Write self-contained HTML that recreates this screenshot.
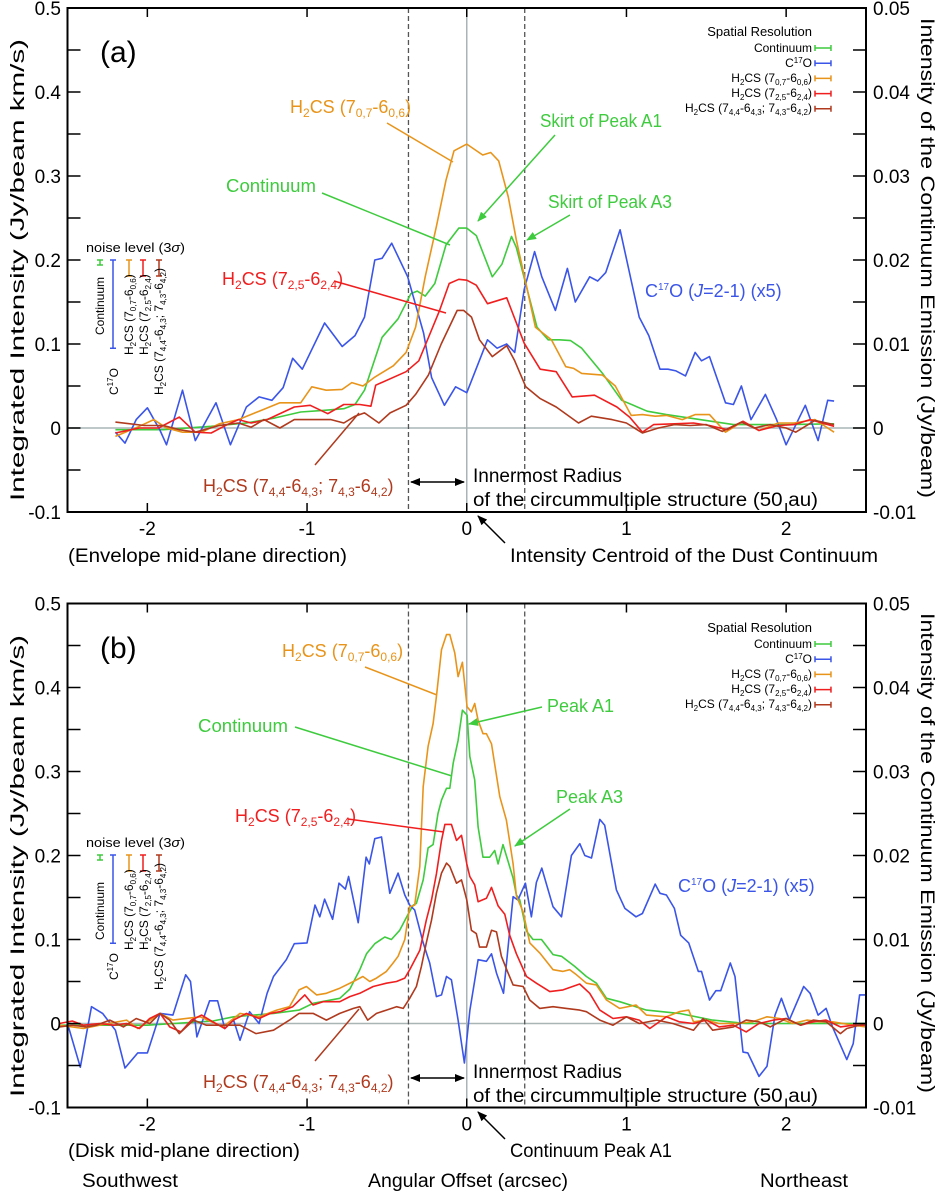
<!DOCTYPE html>
<html><head><meta charset="utf-8">
<style>
html,body{margin:0;padding:0;background:#fff;}
svg{display:block;font-family:"Liberation Sans",sans-serif;}
.tk{font-size:19px;fill:#000;}
.ann{font-size:18px;}
.sm{font-size:12px;fill:#000;}
</style></head>
<body>
<svg id="fig" width="937" height="1194" viewBox="0 0 937 1194" xmlns="http://www.w3.org/2000/svg">
<defs>
<marker id="ahG" markerWidth="10" markerHeight="8" refX="9" refY="4" orient="auto" markerUnits="userSpaceOnUse"><path d="M0,0 L10,4 L0,8 z" fill="#3ecb3e"/></marker>
<marker id="ahK" markerWidth="10" markerHeight="8" refX="9" refY="4" orient="auto" markerUnits="userSpaceOnUse"><path d="M0,0 L10,4 L0,8 z" fill="#000"/></marker>
<marker id="ahKs" markerWidth="10" markerHeight="8" refX="1" refY="4" orient="auto" markerUnits="userSpaceOnUse"><path d="M10,0 L0,4 L10,8 z" fill="#000"/></marker>
</defs>
<g id="panelA"></g>
<g id="panelB"></g>

<!-- ============ PANEL A static text ============ -->
<g>
<text x="100" y="62" font-size="30">(a)</text>
<text transform="translate(24,270) rotate(-90)" text-anchor="middle" font-size="19" textLength="462" lengthAdjust="spacingAndGlyphs">Integrated Intensity (Jy/beam km/s)</text>
<text transform="translate(921,258) rotate(90)" text-anchor="middle" font-size="19" textLength="480" lengthAdjust="spacingAndGlyphs">Intensity of the Continuum Emission (Jy/beam)</text>

<text x="290" y="113" class="ann" fill="#e8941a">H<tspan dy="4" font-size="12">2</tspan><tspan dy="-4">CS (7</tspan><tspan dy="4" font-size="12">0,7</tspan><tspan dy="-4">-6</tspan><tspan dy="4" font-size="12">0,6</tspan><tspan dy="-4">)</tspan></text>
<line x1="387" y1="123" x2="453" y2="162" stroke="#e8941a" stroke-width="1.5"/>
<text x="540" y="127" class="ann" fill="#3ecb3e" textLength="122" lengthAdjust="spacingAndGlyphs">Skirt of Peak A1</text>
<line x1="555" y1="135" x2="478" y2="221" stroke="#3ecb3e" stroke-width="1.5" marker-end="url(#ahG)"/>
<text x="226" y="192" class="ann" fill="#3ecb3e" textLength="90" lengthAdjust="spacingAndGlyphs">Continuum</text>
<line x1="322" y1="193" x2="450" y2="245" stroke="#3ecb3e" stroke-width="1.5"/>
<text x="548" y="208" class="ann" fill="#3ecb3e" textLength="124" lengthAdjust="spacingAndGlyphs">Skirt of Peak A3</text>
<line x1="570" y1="215" x2="527" y2="240" stroke="#3ecb3e" stroke-width="1.5" marker-end="url(#ahG)"/>
<text x="222" y="285" class="ann" fill="#f01e1e">H<tspan dy="4" font-size="12">2</tspan><tspan dy="-4">CS (7</tspan><tspan dy="4" font-size="12">2,5</tspan><tspan dy="-4">-6</tspan><tspan dy="4" font-size="12">2,4</tspan><tspan dy="-4">)</tspan></text>
<line x1="334" y1="281" x2="446" y2="313" stroke="#f01e1e" stroke-width="1.5"/>
<text x="645" y="297" class="ann" fill="#3a55e8">C<tspan dy="-7" font-size="10">17</tspan><tspan dy="7">O (</tspan><tspan font-style="italic">J</tspan>=2-1) (x5)</text>
<text x="203" y="492" class="ann" fill="#b03a1e">H<tspan dy="4" font-size="12">2</tspan><tspan dy="-4">CS (7</tspan><tspan dy="4" font-size="12">4,4</tspan><tspan dy="-4">-6</tspan><tspan dy="4" font-size="12">4,3</tspan><tspan dy="-4">; 7</tspan><tspan dy="4" font-size="12">4,3</tspan><tspan dy="-4">-6</tspan><tspan dy="4" font-size="12">4,2</tspan><tspan dy="-4">)</tspan></text>
<line x1="315" y1="465" x2="359" y2="413" stroke="#b03a1e" stroke-width="1.5"/>

<line x1="411" y1="482" x2="464" y2="482" stroke="#000" stroke-width="1.5" marker-end="url(#ahK)" marker-start="url(#ahKs)"/>
<text x="473" y="482" font-size="19">Innermost Radius</text>
<text x="473" y="506" font-size="19" textLength="345" lengthAdjust="spacingAndGlyphs">of the circummultiple structure (50 au)</text>
<text x="68" y="562" font-size="19" textLength="279" lengthAdjust="spacingAndGlyphs">(Envelope mid-plane direction)</text>
<text x="510" y="562" font-size="19" textLength="368" lengthAdjust="spacingAndGlyphs">Intensity Centroid of the Dust Continuum</text>
<line x1="505" y1="543" x2="478" y2="516" stroke="#000" stroke-width="1.5" marker-end="url(#ahK)"/>

<g>
<text x="86" y="252" font-size="13" textLength="99" lengthAdjust="spacingAndGlyphs">noise level (3<tspan font-style="italic">σ</tspan>)</text>
<text transform="translate(104,335) rotate(-90)" class="sm">Continuum</text>
<text transform="translate(118,395) rotate(-90)" class="sm">C<tspan dy="-5" font-size="8">17</tspan><tspan dy="5">O</tspan></text>
<text transform="translate(133,355) rotate(-90)" class="sm">H<tspan dy="3" font-size="8">2</tspan><tspan dy="-3">CS (7</tspan><tspan dy="3" font-size="8">0,7</tspan><tspan dy="-3">-6</tspan><tspan dy="3" font-size="8">0,6</tspan><tspan dy="-3">)</tspan></text>
<text transform="translate(148,355) rotate(-90)" class="sm">H<tspan dy="3" font-size="8">2</tspan><tspan dy="-3">CS (7</tspan><tspan dy="3" font-size="8">2,5</tspan><tspan dy="-3">-6</tspan><tspan dy="3" font-size="8">2,4</tspan><tspan dy="-3">)</tspan></text>
<text transform="translate(163,395) rotate(-90)" class="sm">H<tspan dy="3" font-size="8">2</tspan><tspan dy="-3">CS (7</tspan><tspan dy="3" font-size="8">4,4</tspan><tspan dy="-3">-6</tspan><tspan dy="3" font-size="8">4,3</tspan><tspan dy="-3">; 7</tspan><tspan dy="3" font-size="8">4,3</tspan><tspan dy="-3">-6</tspan><tspan dy="3" font-size="8">4,2</tspan><tspan dy="-3">)</tspan></text>
</g>
<g font-size="12" text-anchor="end">
<text x="812" y="36" font-size="13">Spatial Resolution</text>
<text x="812" y="52">Continuum</text>
<text x="812" y="67">C<tspan dy="-4" font-size="8">17</tspan><tspan dy="4">O</tspan></text>
<text x="812" y="82">H<tspan dy="3" font-size="8">2</tspan><tspan dy="-3">CS (7</tspan><tspan dy="3" font-size="8">0,7</tspan><tspan dy="-3">-6</tspan><tspan dy="3" font-size="8">0,6</tspan><tspan dy="-3">)</tspan></text>
<text x="812" y="97">H<tspan dy="3" font-size="8">2</tspan><tspan dy="-3">CS (7</tspan><tspan dy="3" font-size="8">2,5</tspan><tspan dy="-3">-6</tspan><tspan dy="3" font-size="8">2,4</tspan><tspan dy="-3">)</tspan></text>
<text x="812" y="112">H<tspan dy="3" font-size="8">2</tspan><tspan dy="-3">CS (7</tspan><tspan dy="3" font-size="8">4,4</tspan><tspan dy="-3">-6</tspan><tspan dy="3" font-size="8">4,3</tspan><tspan dy="-3">; 7</tspan><tspan dy="3" font-size="8">4,3</tspan><tspan dy="-3">-6</tspan><tspan dy="3" font-size="8">4,2</tspan><tspan dy="-3">)</tspan></text>
</g>
</g>

<!-- ============ PANEL B static text ============ -->
<g>
<text x="100" y="658" font-size="30">(b)</text>
<text transform="translate(24,866) rotate(-90)" text-anchor="middle" font-size="19" textLength="462" lengthAdjust="spacingAndGlyphs">Integrated Intensity (Jy/beam km/s)</text>
<text transform="translate(921,853) rotate(90)" text-anchor="middle" font-size="19" textLength="480" lengthAdjust="spacingAndGlyphs">Intensity of the Continuum Emission (Jy/beam)</text>

<text x="282" y="657" class="ann" fill="#e8941a">H<tspan dy="4" font-size="12">2</tspan><tspan dy="-4">CS (7</tspan><tspan dy="4" font-size="12">0,7</tspan><tspan dy="-4">-6</tspan><tspan dy="4" font-size="12">0,6</tspan><tspan dy="-4">)</tspan></text>
<line x1="365" y1="667" x2="437" y2="695" stroke="#e8941a" stroke-width="1.5"/>
<text x="547" y="712" class="ann" fill="#3ecb3e">Peak A1</text>
<line x1="542" y1="707" x2="469" y2="724" stroke="#3ecb3e" stroke-width="1.5" marker-end="url(#ahG)"/>
<text x="198" y="732" class="ann" fill="#3ecb3e" textLength="90" lengthAdjust="spacingAndGlyphs">Continuum</text>
<line x1="295" y1="727" x2="452" y2="776" stroke="#3ecb3e" stroke-width="1.5"/>
<text x="556" y="803" class="ann" fill="#3ecb3e">Peak A3</text>
<line x1="570" y1="809" x2="515" y2="846" stroke="#3ecb3e" stroke-width="1.5" marker-end="url(#ahG)"/>
<text x="235" y="822" class="ann" fill="#f01e1e">H<tspan dy="4" font-size="12">2</tspan><tspan dy="-4">CS (7</tspan><tspan dy="4" font-size="12">2,5</tspan><tspan dy="-4">-6</tspan><tspan dy="4" font-size="12">2,4</tspan><tspan dy="-4">)</tspan></text>
<line x1="348" y1="819" x2="444" y2="832" stroke="#f01e1e" stroke-width="1.5"/>
<text x="678" y="892" class="ann" fill="#3a55e8">C<tspan dy="-7" font-size="10">17</tspan><tspan dy="7">O (</tspan><tspan font-style="italic">J</tspan>=2-1) (x5)</text>
<text x="203" y="1088" class="ann" fill="#b03a1e">H<tspan dy="4" font-size="12">2</tspan><tspan dy="-4">CS (7</tspan><tspan dy="4" font-size="12">4,4</tspan><tspan dy="-4">-6</tspan><tspan dy="4" font-size="12">4,3</tspan><tspan dy="-4">; 7</tspan><tspan dy="4" font-size="12">4,3</tspan><tspan dy="-4">-6</tspan><tspan dy="4" font-size="12">4,2</tspan><tspan dy="-4">)</tspan></text>
<line x1="315" y1="1061" x2="359" y2="1009" stroke="#b03a1e" stroke-width="1.5"/>

<line x1="411" y1="1078" x2="464" y2="1078" stroke="#000" stroke-width="1.5" marker-end="url(#ahK)" marker-start="url(#ahKs)"/>
<text x="473" y="1078" font-size="19">Innermost Radius</text>
<text x="473" y="1102" font-size="19" textLength="345" lengthAdjust="spacingAndGlyphs">of the circummultiple structure (50 au)</text>
<text x="68" y="1157" font-size="19" textLength="232" lengthAdjust="spacingAndGlyphs">(Disk mid-plane direction)</text>
<text x="510" y="1157" font-size="19" textLength="162" lengthAdjust="spacingAndGlyphs">Continuum Peak A1</text>
<line x1="505" y1="1139" x2="478" y2="1112" stroke="#000" stroke-width="1.5" marker-end="url(#ahK)"/>
<text x="82" y="1187" font-size="19" textLength="96" lengthAdjust="spacingAndGlyphs">Southwest</text>
<text x="368" y="1187" font-size="19" textLength="200" lengthAdjust="spacingAndGlyphs">Angular Offset (arcsec)</text>
<text x="760" y="1187" font-size="19" textLength="88" lengthAdjust="spacingAndGlyphs">Northeast</text>

<g>
<text x="86" y="847" font-size="13" textLength="99" lengthAdjust="spacingAndGlyphs">noise level (3<tspan font-style="italic">σ</tspan>)</text>
<text transform="translate(104,940) rotate(-90)" class="sm">Continuum</text>
<text transform="translate(118,980) rotate(-90)" class="sm">C<tspan dy="-5" font-size="8">17</tspan><tspan dy="5">O</tspan></text>
<text transform="translate(133,950) rotate(-90)" class="sm">H<tspan dy="3" font-size="8">2</tspan><tspan dy="-3">CS (7</tspan><tspan dy="3" font-size="8">0,7</tspan><tspan dy="-3">-6</tspan><tspan dy="3" font-size="8">0,6</tspan><tspan dy="-3">)</tspan></text>
<text transform="translate(148,950) rotate(-90)" class="sm">H<tspan dy="3" font-size="8">2</tspan><tspan dy="-3">CS (7</tspan><tspan dy="3" font-size="8">2,5</tspan><tspan dy="-3">-6</tspan><tspan dy="3" font-size="8">2,4</tspan><tspan dy="-3">)</tspan></text>
<text transform="translate(163,990) rotate(-90)" class="sm">H<tspan dy="3" font-size="8">2</tspan><tspan dy="-3">CS (7</tspan><tspan dy="3" font-size="8">4,4</tspan><tspan dy="-3">-6</tspan><tspan dy="3" font-size="8">4,3</tspan><tspan dy="-3">; 7</tspan><tspan dy="3" font-size="8">4,3</tspan><tspan dy="-3">-6</tspan><tspan dy="3" font-size="8">4,2</tspan><tspan dy="-3">)</tspan></text>
</g>
<g font-size="12" text-anchor="end">
<text x="812" y="632" font-size="13">Spatial Resolution</text>
<text x="812" y="648">Continuum</text>
<text x="812" y="663">C<tspan dy="-4" font-size="8">17</tspan><tspan dy="4">O</tspan></text>
<text x="812" y="678">H<tspan dy="3" font-size="8">2</tspan><tspan dy="-3">CS (7</tspan><tspan dy="3" font-size="8">0,7</tspan><tspan dy="-3">-6</tspan><tspan dy="3" font-size="8">0,6</tspan><tspan dy="-3">)</tspan></text>
<text x="812" y="693">H<tspan dy="3" font-size="8">2</tspan><tspan dy="-3">CS (7</tspan><tspan dy="3" font-size="8">2,5</tspan><tspan dy="-3">-6</tspan><tspan dy="3" font-size="8">2,4</tspan><tspan dy="-3">)</tspan></text>
<text x="812" y="708">H<tspan dy="3" font-size="8">2</tspan><tspan dy="-3">CS (7</tspan><tspan dy="3" font-size="8">4,4</tspan><tspan dy="-3">-6</tspan><tspan dy="3" font-size="8">4,3</tspan><tspan dy="-3">; 7</tspan><tspan dy="3" font-size="8">4,3</tspan><tspan dy="-3">-6</tspan><tspan dy="3" font-size="8">4,2</tspan><tspan dy="-3">)</tspan></text>
</g>
</g>
</svg>

<script>
// ---------------- DATA (offset arcsec / intensity) ----------------
const xTicks = [-2, -1, 0, 1, 2];
const xTickLabels = ["-2", "-1", "0", "1", "2"];
const yTicksLeft = [-0.1, 0, 0.1, 0.2, 0.3, 0.4, 0.5];
const yTickLabelsLeft = ["-0.1", "0", "0.1", "0.2", "0.3", "0.4", "0.5"];
const yTickLabelsRight = ["-0.01", "0", "0.01", "0.02", "0.03", "0.04", "0.05"];
const dashedOffsets = [-0.365, 0.363];

// Panel (a)
const aBlueX = [-2.2,-2.14,-2.07,-2.0,-1.92,-1.88,-1.78,-1.7,-1.57,-1.48,-1.38,-1.3,-1.22,-1.15,-1.09,-1.03,-0.89,-0.78,-0.7,-0.64,-0.576,-0.53,-0.47,-0.37,-0.27,-0.22,-0.14,-0.07,0.0,0.13,0.19,0.25,0.3,0.36,0.425,0.47,0.555,0.63,0.68,0.77,0.82,0.87,0.96,1.08,1.14,1.21,1.26,1.31,1.37,1.43,1.47,1.52,1.62,1.67,1.72,1.78,1.87,1.94,2.0,2.12,2.2,2.26,2.3];
const aBlueY = [-0.005,-0.018,0.01,0.024,-0.003,-0.02,0.045,-0.015,0.03,-0.02,0.025,0.037,0.033,0.048,0.083,0.07,0.125,0.097,0.11,0.132,0.2,0.202,0.22,0.18,0.113,0.06,0.027,0.049,0.042,0.105,0.095,0.1,0.09,0.165,0.21,0.18,0.14,0.19,0.15,0.18,0.175,0.185,0.236,0.132,0.11,0.07,0.07,0.068,0.062,0.09,0.08,0.085,0.03,0.028,0.05,0.01,0.04,0.01,-0.02,0.027,-0.015,0.033,0.032];
const aOrangeX = [-2.2,-2.05,-1.96,-1.88,-1.78,-1.66,-1.55,-1.43,-1.3,-1.17,-1.04,-0.97,-0.88,-0.78,-0.72,-0.65,-0.58,-0.46,-0.38,-0.32,-0.26,-0.19,-0.13,-0.08,0.0,0.1,0.15,0.2,0.26,0.31,0.38,0.43,0.53,0.62,0.67,0.72,0.85,0.93,1.03,1.1,1.18,1.25,1.35,1.43,1.52,1.62,1.73,1.83,1.95,2.05,2.18,2.3];
const aOrangeY = [-0.01,0.002,0.01,0.0,-0.005,-0.005,0.005,0.01,0.02,0.03,0.03,0.049,0.045,0.046,0.054,0.05,0.06,0.074,0.09,0.12,0.18,0.24,0.295,0.33,0.338,0.325,0.328,0.318,0.275,0.224,0.164,0.12,0.105,0.073,0.071,0.065,0.063,0.05,0.015,0.016,0.014,0.015,0.01,0.016,0.016,-0.005,0.008,-0.003,0.006,0.006,0.01,-0.005];
const aGreenX = [-2.2,-1.9,-1.6,-1.38,-1.2,-1.04,-0.9,-0.77,-0.7,-0.64,-0.53,-0.43,-0.35,-0.31,-0.26,-0.2,-0.13,-0.05,0.0,0.06,0.16,0.22,0.28,0.31,0.38,0.44,0.51,0.58,0.65,0.72,0.85,0.97,1.13,1.25,1.46,1.67,2.0,2.3];
const aGreenY = [-0.002,-0.002,0.002,0.006,0.012,0.019,0.021,0.023,0.028,0.045,0.108,0.13,0.16,0.163,0.157,0.172,0.218,0.238,0.238,0.229,0.18,0.195,0.228,0.215,0.164,0.12,0.105,0.105,0.104,0.095,0.065,0.033,0.02,0.016,0.01,0.004,0.004,0.005];
const aRedX = [-2.2,-2.05,-1.93,-1.8,-1.7,-1.6,-1.5,-1.43,-1.35,-1.25,-1.08,-0.98,-0.87,-0.77,-0.67,-0.6,-0.57,-0.38,-0.3,-0.25,-0.17,-0.11,-0.05,0.0,0.06,0.13,0.25,0.36,0.46,0.56,0.66,0.8,0.94,1.02,1.1,1.17,1.3,1.42,1.52,1.63,1.73,1.83,1.95,2.05,2.15,2.3];
const aRedY = [-0.006,0.0,0.0,0.013,-0.005,-0.006,0.004,0.01,0.006,0.01,0.025,0.027,0.017,0.028,0.028,0.026,0.051,0.067,0.08,0.103,0.14,0.172,0.177,0.176,0.17,0.148,0.155,0.101,0.07,0.067,0.037,0.039,0.025,0.013,-0.005,0.004,0.005,0.006,0.003,-0.002,0.008,-0.003,0.003,0.004,0.01,0.002];
const aBrownX = [-2.2,-2.02,-1.9,-1.8,-1.7,-1.55,-1.43,-1.35,-1.27,-1.17,-1.08,-0.95,-0.85,-0.77,-0.7,-0.64,-0.55,-0.48,-0.38,-0.32,-0.24,-0.16,-0.06,-0.02,0.03,0.08,0.16,0.25,0.3,0.37,0.46,0.56,0.7,0.78,0.91,1.0,1.1,1.2,1.3,1.4,1.5,1.6,1.72,1.8,1.9,2.0,2.06,2.18,2.3];
const aBrownY = [0.007,0.003,0.003,-0.002,-0.005,0.003,0.006,0.001,0.01,0.0,0.01,0.01,0.01,0.006,0.014,0.018,0.006,0.018,0.027,0.04,0.063,0.1,0.14,0.14,0.132,0.105,0.085,0.098,0.08,0.049,0.035,0.025,0.006,0.014,0.01,0.006,-0.006,0.0,0.004,0.003,0.004,-0.004,0.007,0.0,0.004,0.0,-0.005,0.009,0.004];

// Panel (b)
const bBlueX = [-2.5,-2.42,-2.35,-2.28,-2.2,-2.14,-2.06,-2.0,-1.92,-1.84,-1.76,-1.73,-1.69,-1.61,-1.56,-1.515,-1.46,-1.42,-1.36,-1.3,-1.25,-1.21,-1.13,-1.08,-1.0,-0.95,-0.92,-0.89,-0.84,-0.8,-0.76,-0.74,-0.68,-0.63,-0.61,-0.576,-0.534,-0.482,-0.43,-0.388,-0.357,-0.326,-0.273,-0.232,-0.19,-0.158,-0.127,-0.096,-0.054,-0.015,0.02,0.071,0.123,0.155,0.186,0.23,0.29,0.32,0.367,0.405,0.436,0.47,0.54,0.593,0.655,0.708,0.739,0.781,0.833,0.864,0.937,0.99,1.06,1.1,1.18,1.21,1.25,1.3,1.34,1.39,1.45,1.47,1.52,1.56,1.59,1.65,1.68,1.73,1.76,1.83,1.88,1.93,1.97,2.02,2.11,2.15,2.2,2.25,2.29,2.38,2.42,2.46,2.5];
const bBlueY = [0.0,-0.052,0.02,0.012,-0.008,-0.053,-0.035,-0.035,0.012,0.01,0.058,0.05,-0.016,0.027,0.027,-0.006,0.004,-0.02,0.014,0.0,0.036,0.056,0.076,0.095,0.096,0.141,0.127,0.148,0.124,0.167,0.16,0.175,0.12,0.198,0.19,0.22,0.222,0.155,0.179,0.153,0.141,0.135,0.096,0.072,0.032,0.034,0.056,0.052,0.004,-0.047,0.016,0.076,0.074,0.083,0.06,0.036,0.151,0.147,0.167,0.127,0.168,0.185,0.139,0.127,0.2,0.214,0.2,0.197,0.243,0.236,0.159,0.137,0.127,0.131,0.166,0.155,0.153,0.137,0.105,0.096,0.062,0.062,0.028,0.039,0.039,0.072,0.056,-0.034,-0.035,-0.063,-0.051,0.01,0.03,0.004,0.044,0.036,0.01,0.018,-0.004,-0.043,-0.024,0.034,0.034];
const bOrangeX = [-2.55,-2.4,-2.3,-2.13,-2.06,-1.92,-1.84,-1.67,-1.526,-1.42,-1.3,-1.19,-1.11,-1.05,-1.004,-0.94,-0.879,-0.795,-0.71,-0.65,-0.607,-0.565,-0.503,-0.461,-0.43,-0.388,-0.357,-0.326,-0.294,-0.273,-0.242,-0.211,-0.19,-0.158,-0.127,-0.106,-0.075,-0.054,-0.027,0.002,0.029,0.05,0.071,0.102,0.123,0.155,0.207,0.248,0.29,0.311,0.353,0.395,0.457,0.541,0.603,0.645,0.687,0.749,0.812,0.875,0.958,1.06,1.125,1.25,1.33,1.39,1.42,1.5,1.58,1.69,1.79,1.88,1.96,2.04,2.13,2.21,2.29,2.42,2.5];
const bOrangeY = [-0.002,-0.006,-0.002,0.004,-0.006,0.012,0.004,0.008,-0.004,0.012,0.008,0.016,0.02,0.04,0.044,0.034,0.036,0.042,0.05,0.056,0.05,0.054,0.062,0.072,0.08,0.1,0.139,0.141,0.187,0.282,0.33,0.357,0.389,0.445,0.463,0.463,0.441,0.413,0.43,0.377,0.371,0.381,0.361,0.345,0.345,0.333,0.27,0.242,0.19,0.152,0.133,0.096,0.084,0.064,0.062,0.064,0.058,0.048,0.046,0.028,0.018,0.022,0.01,0.008,0.014,0.016,0.002,0.004,0.0,0.0,0.002,0.008,0.006,0.0,0.004,0.002,0.002,-0.002,-0.004];
const bGreenX = [-2.55,-2.0,-1.59,-1.46,-1.21,-1.05,-0.962,-0.795,-0.732,-0.67,-0.628,-0.576,-0.513,-0.472,-0.42,-0.367,-0.335,-0.315,-0.273,-0.242,-0.211,-0.18,-0.158,-0.127,-0.106,-0.085,-0.054,-0.027,0.002,0.019,0.05,0.071,0.102,0.144,0.175,0.196,0.227,0.259,0.29,0.311,0.332,0.374,0.415,0.468,0.541,0.593,0.676,0.749,0.812,0.875,0.958,1.125,1.33,1.54,1.75,2.1,2.5];
const bGreenY = [-0.002,-0.002,0.003,0.008,0.012,0.016,0.024,0.03,0.041,0.064,0.083,0.095,0.103,0.1,0.111,0.13,0.141,0.143,0.171,0.209,0.213,0.25,0.266,0.28,0.28,0.31,0.337,0.373,0.367,0.318,0.29,0.234,0.198,0.198,0.206,0.19,0.213,0.193,0.173,0.153,0.147,0.11,0.1,0.1,0.082,0.08,0.068,0.056,0.048,0.03,0.026,0.016,0.012,0.004,0.0,0.0,0.0];
const bRedX = [-2.55,-2.47,-2.4,-2.3,-2.21,-2.13,-2.05,-1.985,-1.92,-1.86,-1.79,-1.725,-1.66,-1.59,-1.515,-1.46,-1.38,-1.3,-1.23,-1.17,-1.09,-1.014,-0.962,-0.9,-0.795,-0.732,-0.67,-0.586,-0.503,-0.44,-0.388,-0.357,-0.294,-0.253,-0.221,-0.19,-0.158,-0.137,-0.096,-0.064,-0.033,0.0,0.019,0.05,0.071,0.123,0.155,0.196,0.238,0.269,0.311,0.374,0.436,0.52,0.603,0.707,0.77,0.833,0.916,1.0,1.08,1.146,1.25,1.33,1.42,1.5,1.58,1.67,1.75,1.83,1.92,2.0,2.09,2.17,2.25,2.34,2.42,2.5];
const bRedY = [0.0,0.003,-0.002,0.0,-0.002,0.0,-0.006,0.006,0.012,-0.004,-0.01,0.004,0.01,0.002,-0.006,0.004,0.012,0.006,0.012,0.014,0.02,0.034,0.022,0.026,0.026,0.032,0.036,0.044,0.048,0.05,0.054,0.064,0.087,0.123,0.147,0.178,0.218,0.237,0.237,0.218,0.224,0.19,0.175,0.165,0.145,0.149,0.162,0.14,0.13,0.105,0.083,0.056,0.048,0.038,0.04,0.047,0.036,0.016,0.006,0.008,0.004,-0.006,0.008,0.002,0.0,0.004,-0.004,-0.002,-0.01,0.0,0.004,0.006,-0.002,0.002,0.004,-0.004,-0.002,-0.002];
const bBrownX = [-2.55,-2.47,-2.38,-2.32,-2.235,-2.15,-2.07,-1.985,-1.92,-1.86,-1.8,-1.71,-1.63,-1.526,-1.42,-1.32,-1.21,-1.11,-1.05,-0.962,-0.879,-0.795,-0.71,-0.67,-0.62,-0.565,-0.503,-0.44,-0.398,-0.357,-0.315,-0.284,-0.253,-0.221,-0.19,-0.158,-0.127,-0.106,-0.064,-0.033,0.0,0.029,0.06,0.08,0.123,0.155,0.186,0.217,0.259,0.29,0.353,0.394,0.457,0.54,0.624,0.707,0.749,0.833,0.916,1.0,1.08,1.19,1.29,1.42,1.48,1.54,1.67,1.75,1.83,1.9,2.0,2.09,2.17,2.25,2.34,2.38,2.5];
const bBrownY = [-0.004,-0.002,-0.004,-0.002,0.004,-0.004,0.006,0.0,0.012,0.004,-0.012,0.004,-0.002,-0.002,-0.002,-0.012,-0.008,0.004,0.012,0.012,0.004,0.012,0.018,0.02,0.004,0.012,0.016,0.02,0.018,0.03,0.044,0.068,0.096,0.123,0.155,0.179,0.191,0.187,0.167,0.171,0.147,0.111,0.107,0.091,0.091,0.111,0.109,0.08,0.06,0.046,0.044,0.028,0.018,0.02,0.018,0.016,0.014,0.004,-0.002,0.008,0.0,0.004,0.0,-0.008,0.006,-0.008,-0.004,0.004,0.002,-0.004,0.006,-0.002,0.004,0.002,-0.012,-0.006,0.0];

// noise (3 sigma) bar heights and resolution (arcsec)
const noiseA = [0.006, 0.105, 0.019, 0.019, 0.019];
const noiseB = [0.006, 0.105, 0.019, 0.019, 0.019];
const resolution = [0.1, 0.1, 0.1, 0.1, 0.1];

// ---------------- DRAWING ----------------
const NS = "http://www.w3.org/2000/svg";
const X0 = 67.5, X1 = 866, XMIN = -2.5, XMAX = 2.5;
function xScale(v){ return X0 + (v - XMIN) / (XMAX - XMIN) * (X1 - X0); }
const COLORS = {green:"#3ecb3e", blue:"#3a55e8", orange:"#e8941a", red:"#f01e1e", brown:"#b03a1e"};
function mk(tag, attrs, parent){
  const e = document.createElementNS(NS, tag);
  for (const k in attrs) e.setAttribute(k, attrs[k]);
  parent.appendChild(e);
  return e;
}

function drawPanel(g, top, bottom, series, noise, legendTop, resTop, tag){
  const yScale = v => bottom - (v + 0.1) / 0.6 * (bottom - top);
  // zero lines
  const zl = mk("line", {x1:X0, x2:X1, y1:yScale(0), y2:yScale(0), stroke:"#a9b5b5", "stroke-width":1.5}, g);
  
  
  const vl = mk("line", {x1:xScale(0), x2:xScale(0), y1:top, y2:bottom, stroke:"#a9b5b5", "stroke-width":1.5}, g);
  
  
  dashedOffsets.forEach((d) => {
    const dl = mk("line", {x1:xScale(d), x2:xScale(d), y1:top, y2:bottom, stroke:"#555", "stroke-width":1.3, "stroke-dasharray":"5,3"}, g);
    
    
  });
  // series
  series.forEach(s => {
    let d = "";
    s.x.forEach((xv, i) => { d += (i ? "L" : "M") + xScale(xv).toFixed(1) + "," + yScale(s.y[i]).toFixed(1); });
    const p = mk("path", {d:d, fill:"none", stroke:s.c, "stroke-width":1.6, "stroke-linejoin":"round"}, g);
    
    
  });
  // frame
  const fr = mk("rect", {x:X0, y:top, width:X1 - X0, height:bottom - top, fill:"none", stroke:"#000", "stroke-width":2}, g);
  
  
  // y ticks
  for (let v = -0.1; v <= 0.5001; v += 0.05) {
    const y = yScale(v);
    mk("line", {x1:X0, x2:X0 + 13, y1:y, y2:y, stroke:"#000", "stroke-width":1.5}, g);
    mk("line", {x1:X1, x2:X1 - 13, y1:y, y2:y, stroke:"#000", "stroke-width":1.5}, g);
  }
  yTicksLeft.forEach((v, i) => {
    const y = yScale(v) + 7;
    const tl = mk("text", {x:61, y:y, "text-anchor":"end", class:"tk"}, g);
    tl.textContent = yTickLabelsLeft[i];
    
    
    const tr = mk("text", {x:873, y:y, "text-anchor":"start", class:"tk"}, g);
    tr.textContent = yTickLabelsRight[i];
    
    
  });
  xTicks.forEach((v, i) => {
    const x = xScale(v);
    mk("line", {x1:x, x2:x, y1:bottom, y2:bottom - 9, stroke:"#000", "stroke-width":1.5}, g);
    mk("line", {x1:x, x2:x, y1:top, y2:top + 9, stroke:"#000", "stroke-width":1.5}, g);
    const t = mk("text", {x:x, y:bottom + 23, "text-anchor":"middle", class:"tk"}, g);
    t.textContent = xTickLabels[i];
    
    
  });
  // noise bars
  const nx = [100, 113, 129, 143, 159];
  const nc = [COLORS.green, COLORS.blue, COLORS.orange, COLORS.red, COLORS.brown];
  noise.forEach((n, i) => {
    const h = n / 0.6 * (bottom - top);
    const y1 = legendTop, y2 = legendTop + h;
    const nb = mk("path", {d:`M${nx[i]-3},${y1}H${nx[i]+3}M${nx[i]},${y1}V${y2}M${nx[i]-3},${y2}H${nx[i]+3}`, stroke:nc[i], "stroke-width":1.5, fill:"none"}, g);
    
    
  });
  // resolution bars
  resolution.forEach((r, i) => {
    const w = r / (XMAX - XMIN) * (X1 - X0);
    const y = resTop + i * 15.2;
    const xa = 815, xb = 815 + w;
    const rb = mk("path", {d:`M${xa},${y-3}V${y+3}M${xa},${y}H${xb}M${xb},${y-3}V${y+3}`, stroke:nc[i], "stroke-width":1.5, fill:"none"}, g);
    
    
  });
}

const gA = document.getElementById("panelA");
drawPanel(gA, 8, 512, [
  {name:"continuum-line", x:aGreenX, y:aGreenY, c:COLORS.green},
  {name:"c17o-line", x:aBlueX, y:aBlueY, c:COLORS.blue},
  {name:"h2cs-707-line", x:aOrangeX, y:aOrangeY, c:COLORS.orange},
  {name:"h2cs-725-line", x:aRedX, y:aRedY, c:COLORS.red},
  {name:"h2cs-744-line", x:aBrownX, y:aBrownY, c:COLORS.brown}
], noiseA, 260, 48, "a");

const gB = document.getElementById("panelB");
drawPanel(gB, 603.5, 1107.5, [
  {name:"continuum-line", x:bGreenX, y:bGreenY, c:COLORS.green},
  {name:"c17o-line", x:bBlueX, y:bBlueY, c:COLORS.blue},
  {name:"h2cs-707-line", x:bOrangeX, y:bOrangeY, c:COLORS.orange},
  {name:"h2cs-725-line", x:bRedX, y:bRedY, c:COLORS.red},
  {name:"h2cs-744-line", x:bBrownX, y:bBrownY, c:COLORS.brown}
], noiseB, 855, 644, "b");
</script>
</body></html>
